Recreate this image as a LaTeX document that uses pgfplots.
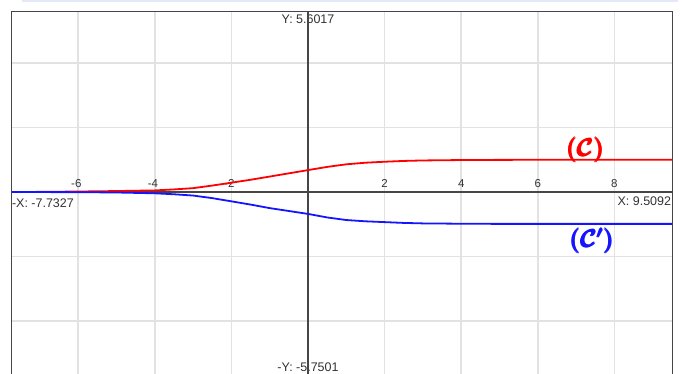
\documentclass[border=0pt]{standalone}
\usepackage{pgfplots}
\pgfplotsset{compat=1.18}
\usepackage{amsmath,bm}
\usepackage{fontspec}
\setmainfont{Liberation Sans}
\definecolor{gridc}{RGB}{226,226,226}
\definecolor{axc}{RGB}{70,70,70}
\definecolor{txtc}{RGB}{50,50,50}
\definecolor{topline}{RGB}{228,233,248}
\definecolor{cred}{RGB}{255,0,0}
\definecolor{cblue}{RGB}{20,20,255}
\begin{document}
\begin{tikzpicture}
\begin{axis}[
  scale only axis, width=661.4pt, height=366.1pt,
  xmin=-7.7327, xmax=9.5092, ymin=-5.7501, ymax=5.6017,
  xtick={-6,-4,-2,0,2,4,6,8}, ytick={-4,-2,2,4},
  xticklabels={}, yticklabels={},
  major tick length=0pt,
  grid=major,
  major grid style={gridc, line width=1.5pt},
  axis line style={axc, line width=1.2pt},
]
\coordinate (bl) at (axis cs:-8.042,-5.634);
\coordinate (tr) at (axis cs:9.817,5.963);
\coordinate (t1) at (axis cs:-7.467,5.932);
\coordinate (t2) at (axis cs:9.661,5.932);
% tick labels
\foreach \v/\t in {-6/{\llap{-}6},-4/{\llap{-}4},-2/{\llap{-}2},2/2,4/4,6/6,8/8}{
  \edef\temp{\noexpand\node[anchor=base, inner sep=0pt, text=txtc, font=\noexpand\fontsize{11.5}{13}\noexpand\selectfont, yshift=5pt] at (axis cs:\v,0) {\unexpanded\expandafter{\t}};}
  \temp
}
\node[anchor=north west, inner sep=0pt, text=txtc, font=\fontsize{12.5}{14}\selectfont, yshift=-6.5pt] at (axis cs:-7.7327,0) {-X: -7.7327};
\node[anchor=north east, inner sep=0pt, text=txtc, font=\fontsize{12.5}{14}\selectfont, yshift=-5pt, xshift=-1pt] at (axis cs:9.5092,0) {X: 9.5092};
\node[anchor=center, inner sep=0pt, text=txtc, font=\fontsize{12.5}{14}\selectfont, yshift=-7.7pt] at (axis cs:0,5.6017) {Y: 5.6017};
\node[anchor=north, inner sep=0pt, text=txtc, font=\fontsize{12.5}{14}\selectfont, yshift=14.8pt] at (axis cs:0,-5.7501) {-Y: -5.7501};
% axes
\draw[axc, line width=1.3pt] (axis cs:-7.7327,0) -- (axis cs:9.5092,0);
\draw[axc, line width=1.3pt] (axis cs:0,-5.7501) -- (axis cs:0,5.6017);
% curves
\addplot[cred, line width=1.8pt] coordinates {
(-7.7327,0.0) (-7,0.004) (-6,0.015) (-5,0.03) (-4,0.05) (-3.5,0.08) (-3,0.12)
(-2.5,0.2) (-2,0.29) (-1.5,0.38) (-1,0.48) (-0.5,0.58) (0,0.68) (0.5,0.78)
(1,0.86) (1.5,0.91) (2,0.94) (2.5,0.965) (3,0.98) (4,0.993) (5,0.998) (6,1.0) (9.5092,1.0)
};
\addplot[cblue, line width=1.8pt] coordinates {
(-7.7327,0.0) (-7,-0.002) (-6,-0.005) (-5,-0.015) (-4,-0.04) (-3.5,-0.07) (-3,-0.11)
(-2.5,-0.19) (-2,-0.29) (-1.5,-0.39) (-1,-0.5) (-0.5,-0.59) (0,-0.68) (0.5,-0.79)
(1,-0.87) (1.5,-0.91) (2,-0.935) (2.5,-0.96) (3,-0.975) (4,-0.985) (5,-0.99) (6,-0.99) (9.5092,-0.99)
};
\node[cred, font=\fontsize{23}{25}\selectfont\mathversion{bold}] at (axis cs:7.25,1.31) {$\pmb{(\mathcal{C})}$};
\node[cblue, font=\fontsize{23}{25}\selectfont\mathversion{bold}] at (axis cs:7.42,-1.51) {$\pmb{(\mathcal{C}')}$};
\end{axis}
\draw[topline, line width=1.5pt] (t1) -- (t2);
\pgfresetboundingbox
\path[use as bounding box] (bl) rectangle (tr);
\end{tikzpicture}
\end{document}
